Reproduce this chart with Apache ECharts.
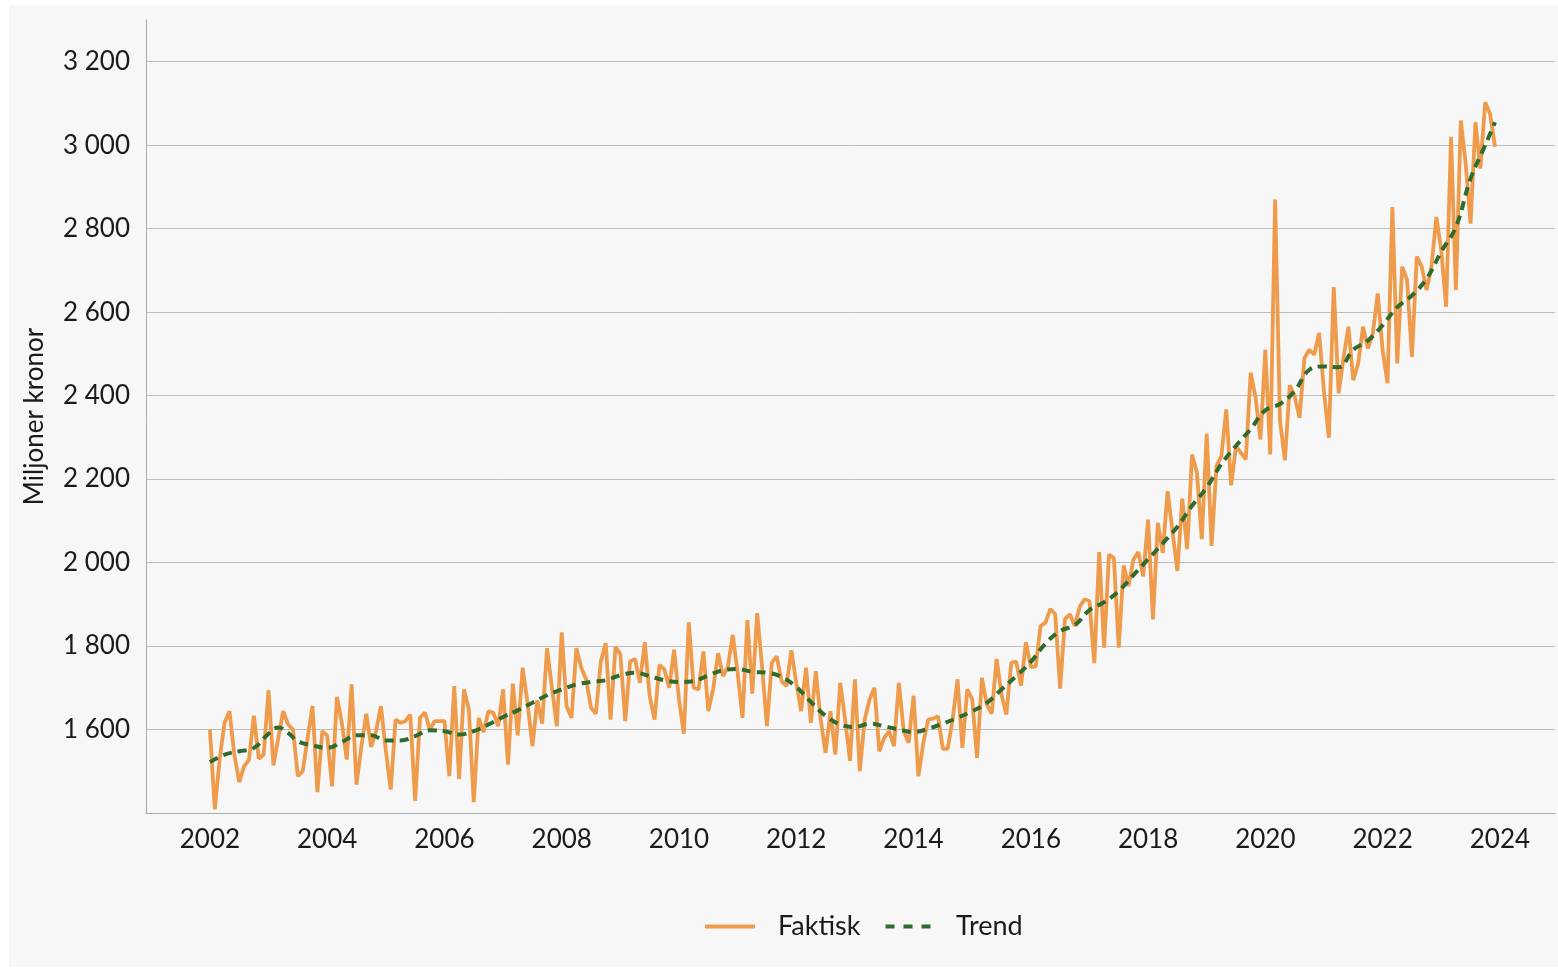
<!DOCTYPE html>
<html>
<head>
<meta charset="utf-8">
<script src="https://cdn.jsdelivr.net/npm/echarts@6/dist/echarts.min.js"></script>
<style>
  html, body { margin: 0; padding: 0; background: #ffffff; }
  #container { position: absolute; left: 9px; top: 5px; width: 1549px; height: 962px; background: #f7f7f7; }
</style>
</head>
<body>
<div id="container"></div>
<script>
// Monthly data, Jan 2002 - Dec 2023 (miljoner kronor)
const startYear = 2002;

const faktisk = [
  1600, 1409, 1530, 1616, 1644, 1540, 1474, 1512, 1528, 1633, 1530, 1540,
  1694, 1514, 1580, 1644, 1612, 1600, 1488, 1500, 1580, 1656, 1450, 1596,
  1586, 1464, 1678, 1616, 1528, 1708, 1468, 1560, 1638, 1558, 1596, 1656,
  1550, 1456, 1624, 1616, 1620, 1636, 1429, 1628, 1641, 1600, 1620, 1620,
  1620, 1488, 1704, 1482, 1696, 1648, 1426, 1628, 1594, 1644, 1640, 1608,
  1696, 1516, 1710, 1586, 1748, 1664, 1560, 1670, 1614, 1795, 1700, 1608,
  1833, 1656, 1628, 1795, 1748, 1720, 1652, 1638, 1763, 1807, 1624, 1798,
  1780, 1620, 1763, 1769, 1712, 1809, 1680, 1624, 1755, 1744, 1700, 1791,
  1672, 1590, 1857, 1700, 1696, 1787, 1644, 1698, 1783, 1728, 1750, 1827,
  1736, 1628, 1862, 1686, 1879, 1751, 1608, 1760, 1775, 1716, 1704, 1790,
  1712, 1644, 1748, 1616, 1740, 1624, 1544, 1644, 1540, 1712, 1624, 1525,
  1720, 1500, 1624, 1672, 1700, 1548, 1580, 1596, 1560, 1712, 1596, 1568,
  1681, 1488, 1568, 1624, 1626, 1632, 1554, 1554, 1624, 1720, 1556, 1696,
  1673, 1532, 1724, 1660, 1638, 1769, 1684, 1636, 1760, 1763, 1705, 1809,
  1750, 1751, 1848, 1856, 1889, 1876, 1698, 1865, 1876, 1848, 1894, 1912,
  1908, 1759, 2025, 1796, 2019, 2011, 1796, 1993, 1944, 2007, 2025, 1967,
  2103, 1864, 2095, 2023, 2171, 2075, 1980, 2153, 2032, 2259, 2215, 2056,
  2309, 2040, 2231, 2255, 2367, 2185, 2279, 2263, 2247, 2455, 2395, 2295,
  2510, 2259, 2870, 2340, 2245, 2425, 2399, 2347, 2490, 2510, 2498, 2550,
  2410, 2299, 2660, 2406, 2490, 2565, 2437, 2477, 2565, 2513, 2549, 2645,
  2509, 2430, 2852, 2477, 2709, 2677, 2493, 2733, 2709, 2653, 2709, 2828,
  2748, 2613, 3020, 2653, 3059, 2956, 2812, 3055, 2944, 3103, 3075, 2996
];

// Trend read at (roughly) quarterly months, index from Jan 2002
const trendMonths = [
  0, 3, 6, 9, 12, 14, 16, 18, 21, 24, 27, 30, 33, 36, 39, 42, 45, 48, 51, 54,
  57, 60, 63, 66, 69, 72, 75, 78, 81, 84, 87, 90, 93, 96, 99, 102, 105, 108,
  111, 114, 117, 120, 123, 126, 129, 132, 135, 138, 141, 144, 147, 150, 153,
  156, 159, 162, 165, 168, 171, 174, 177, 180, 183, 186, 189, 192, 195, 198,
  201, 204, 207, 210, 213, 216, 219, 222, 225, 228, 231, 234, 237, 240, 243,
  246, 249, 252, 255, 258, 261, 263
];
const trendValues = [
  1522, 1540, 1548, 1556, 1590, 1605, 1592, 1572, 1562, 1556, 1570, 1586,
  1586, 1574, 1574, 1584, 1598, 1596, 1588, 1596, 1612, 1630, 1646, 1664,
  1682, 1696, 1708, 1714, 1718, 1730, 1736, 1728, 1718, 1714, 1716, 1730,
  1742, 1745, 1738, 1736, 1726, 1702, 1666, 1633, 1612, 1606, 1614, 1608,
  1600, 1594, 1602, 1614, 1628, 1644, 1664, 1696, 1728, 1762, 1806, 1836,
  1850, 1886, 1905, 1932, 1970, 2008, 2046, 2086, 2136, 2180, 2236, 2280,
  2320, 2365, 2380, 2411, 2462, 2470, 2468, 2510, 2532, 2569, 2612, 2640,
  2680, 2745, 2804, 2920, 3000, 3055
];

const xTicks = [2002, 2004, 2006, 2008, 2010, 2012, 2014, 2016, 2018, 2020, 2022, 2024];

const font = 'Lato, "Open Sans", sans-serif';
const chart = echarts.init(document.getElementById('container'));

const fmt = v => String(v).replace(/\B(?=(\d{3})+(?!\d))/g, ' ');

chart.setOption({
  animation: false,
  textStyle: { fontFamily: font },
  grid: { left: 137, right: 3, top: 15, bottom: 154 },
  legend: {
    left: 691,
    top: 903,
    itemWidth: 50,
    itemHeight: 4,
    itemGap: 25,
    textStyle: { fontSize: 27, color: '#1a1a1a', padding: [0, 0, 0, 18] },
    data: [
      { name: 'Faktisk', icon: 'path://M0,0H50V4H0Z' },
      { name: 'Trend', icon: 'path://M0,0H9V4H0Z M18,0H27V4H18Z M36,0H45V4H36Z' }
    ]
  },
  xAxis: {
    type: 'value',
    min: 2000.91,
    max: 2024.94,
    axisLine: { lineStyle: { color: '#aaaaaa', width: 1 } },
    axisTick: { show: false },
    splitLine: { show: false },
    axisLabel: {
      customValues: xTicks,
      fontSize: 26,
      color: '#1a1a1a',
      margin: 14,
      formatter: v => String(v)
    }
  },
  yAxis: {
    type: 'value',
    min: 1400,
    max: 3300,
    interval: 200,
    name: 'Miljoner kronor',
    nameLocation: 'middle',
    nameGap: 98,
    nameTextStyle: { fontSize: 26, color: '#1a1a1a' },
    axisLine: { show: true, lineStyle: { color: '#aaaaaa', width: 1 } },
    axisTick: { show: false },
    splitLine: { showMinLine: false, showMaxLine: false, lineStyle: { color: '#bdbdbd', width: 1 } },
    axisLabel: {
      fontSize: 26,
      color: '#1a1a1a',
      margin: 16,
      formatter: v => (v < 1600 || v > 3200) ? '' : fmt(v)
    }
  },
  series: [
    {
      name: 'Faktisk',
      type: 'line',
      symbol: 'none',
      color: '#ee9b4c',
      lineStyle: { width: 3.8, color: '#ee9b4c' },
      data: faktisk.map((v, i) => [startYear + i / 12, v]),
      z: 2
    },
    {
      name: 'Trend',
      type: 'line',
      symbol: 'none',
      smooth: 0.4,
      color: '#2f6a2f',
      lineStyle: { width: 4, type: [9, 6], color: '#2f6a2f' },
      data: trendMonths.map((m, i) => [startYear + m / 12, trendValues[i]]),
      z: 3
    }
  ]
});
</script>
</body>
</html>
